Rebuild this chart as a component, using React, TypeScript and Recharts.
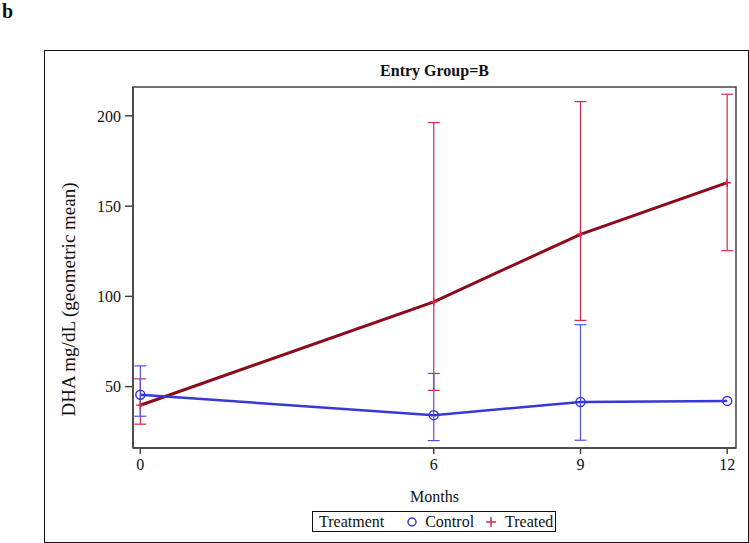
import React from "react";
import {
  ComposedChart, Line, XAxis, YAxis, ErrorBar, ReferenceArea,
} from "recharts";

const months = [0, 6, 9, 12];
const monthTicks = [0, 6, 9, 12];
const dhaTicks = [50, 100, 150, 200];

// geometric means with lower/upper limits
const controlMean = [45.5, 34.2, 41.5, 42.1];
const controlLow = [33.6, 20.1, 20.3, null];
const controlHigh = [61.5, 57.3, 84.3, null];

const treatedMean = [39.7, 97.0, 134.4, 163.0];
const treatedLow = [29.2, 47.9, 86.7, 125.3];
const treatedHigh = [54.3, 196.3, 207.9, 212.0];

const FONT = "'Liberation Serif', 'Times New Roman', serif";
const BLUE_LINE = "#3838d8";
const BLUE_BAR = "#5252e6";
const RED_LINE = "#8c0a1c";
const RED_BAR = "#d42a4a";

const X_DOMAIN: [number, number] = [-0.15, 12.18];
const Y_DOMAIN: [number, number] = [16, 216];

const data = months.map((m, i) => ({
  month: m,
  control: controlMean[i],
  controlErr:
    controlLow[i] == null || controlHigh[i] == null
      ? undefined
      : [controlMean[i] - (controlLow[i] as number), (controlHigh[i] as number) - controlMean[i]],
  treated: treatedMean[i],
  treatedErr: [treatedMean[i] - treatedLow[i], treatedHigh[i] - treatedMean[i]],
}));

const CircleDot = (props: any) => {
  const { cx, cy } = props;
  if (cx == null || cy == null) return null;
  return <circle cx={cx} cy={cy} r={4.5} fill="none" stroke={BLUE_LINE} strokeWidth={1.5} />;
};

const PlusDot = (props: any) => {
  const { cx, cy } = props;
  if (cx == null || cy == null) return null;
  return (
    <g stroke={RED_BAR} strokeWidth={1.5}>
      <line x1={cx - 4} y1={cy} x2={cx + 4} y2={cy} />
      <line x1={cx} y1={cy - 4} x2={cx} y2={cy + 4} />
    </g>
  );
};

const YLabel = (props: any) => {
  const vb = props.viewBox || {};
  const x = 68;
  const y = (vb.y ?? 87) + (vb.height ?? 361) / 2 + 32;
  return (
    <text
      x={x}
      y={y}
      transform={`rotate(-90, ${x}, ${y})`}
      textAnchor="middle"
      dominantBaseline="central"
      fontFamily={FONT}
      fontSize={19}
      fill="#111"
    >
      DHA mg/dL (geometric mean)
    </text>
  );
};

export default function App() {
  return (
    <div
      style={{
        position: "absolute",
        left: 0,
        top: 0,
        width: 749,
        height: 543,
        background: "#fff",
        fontFamily: FONT,
        color: "#111",
      }}
    >
      <div style={{ position: "absolute", left: 2, top: 0, fontSize: 20, fontWeight: "bold", lineHeight: "22px" }}>b</div>
      {/* outer frame */}
      <div
        style={{
          position: "absolute",
          left: 44,
          top: 50,
          width: 703,
          height: 491,
          border: "1px solid #111",
        }}
      />
      <div
        style={{
          position: "absolute",
          left: 133,
          width: 603,
          top: 62,
          textAlign: "center",
          fontSize: 16,
          fontWeight: "bold",
        }}
      >
        Entry Group=B
      </div>

      <div style={{ position: "absolute", left: 0, top: 0 }}>
        <ComposedChart
          width={749}
          height={543}
          data={data}
          margin={{ top: 87, right: 13, bottom: 35, left: 63 }}
        >
          <XAxis
            dataKey="month"
            type="number"
            domain={X_DOMAIN}
            ticks={monthTicks}
            allowDataOverflow
            height={60}
            tickSize={6}
            tickMargin={5}
            axisLine={{ stroke: "#444", strokeWidth: 1.5 }}
            tickLine={{ stroke: "#444", strokeWidth: 1.5 }}
            tick={{ fontSize: 16, fill: "#111", fontFamily: FONT }}
            label={{
              value: "Months",
              position: "insideBottom",
              offset: 6,
              style: { fontSize: 16, fill: "#111", fontFamily: FONT },
            }}
          />
          <YAxis
            type="number"
            domain={Y_DOMAIN}
            ticks={dhaTicks}
            allowDataOverflow
            width={70}
            tickSize={8}
            tickMargin={4}
            axisLine={{ stroke: "#444", strokeWidth: 1.5 }}
            tickLine={{ stroke: "#444", strokeWidth: 1.5 }}
            tick={{ fontSize: 16, fill: "#111", fontFamily: FONT }}
            label={<YLabel />}
          />
          <ReferenceArea
            x1={X_DOMAIN[0]}
            x2={X_DOMAIN[1]}
            y1={Y_DOMAIN[0]}
            y2={Y_DOMAIN[1]}
            fill="none"
            stroke="#444"
            strokeWidth={1.5}
            fillOpacity={0}
          />
          <Line
            dataKey="treated"
            stroke={RED_LINE}
            strokeWidth={3}
            dot={<PlusDot />}
            activeDot={false}
            isAnimationActive={false}
          >
            <ErrorBar dataKey="treatedErr" width={6} stroke={RED_BAR} strokeWidth={1.2} direction="y" />
          </Line>
          <Line
            dataKey="control"
            stroke={BLUE_LINE}
            strokeWidth={2.5}
            dot={<CircleDot />}
            activeDot={false}
            isAnimationActive={false}
          >
            <ErrorBar dataKey="controlErr" width={6} stroke={BLUE_BAR} strokeWidth={1.2} direction="y" />
          </Line>
        </ComposedChart>
      </div>

      {/* legend */}
      <div
        style={{
          position: "absolute",
          left: 312,
          top: 511,
          width: 242,
          height: 19,
          border: "1px solid #111",
          display: "flex",
          alignItems: "center",
          fontSize: 16,
          whiteSpace: "nowrap",
        }}
      >
        <span style={{ marginLeft: 6 }}>Treatment</span>
        <svg width={12} height={12} style={{ marginLeft: 22 }}>
          <circle cx={6} cy={6} r={4} fill="none" stroke={BLUE_LINE} strokeWidth={1.5} />
        </svg>
        <span style={{ marginLeft: 7 }}>Control</span>
        <svg width={12} height={12} style={{ marginLeft: 11 }}>
          <g stroke={RED_BAR} strokeWidth={1.5}>
            <line x1={1} y1={6} x2={11} y2={6} />
            <line x1={6} y1={1} x2={6} y2={11} />
          </g>
        </svg>
        <span style={{ marginLeft: 8 }}>Treated</span>
      </div>
    </div>
  );
}
